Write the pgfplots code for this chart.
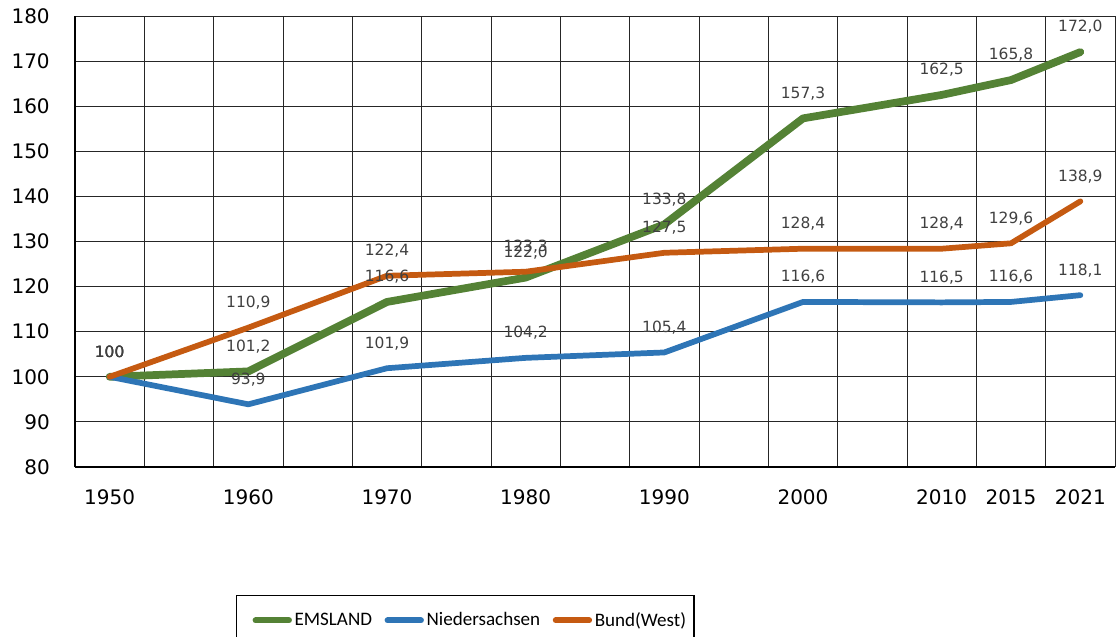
\documentclass[border=0pt]{standalone}
\usepackage{pgfplots}
\pgfplotsset{compat=1.18}
\usepackage{pgfplotstable}
\usepackage{fontspec}
\setmainfont{DejaVu Sans}
\newfontfamily\legfont{Carlito}
\definecolor{cgreen}{HTML}{548235}
\definecolor{cblue}{HTML}{2E75B6}
\definecolor{corange}{HTML}{C55A11}
\definecolor{lbl}{HTML}{404040}

\pgfplotstableread{
x y lab
0 100 100
1 101.2 101,2
2 116.6 116,6
3 122.0 122,0
4 133.8 133,8
5 157.3 157,3
6 162.5 162,5
6.5 165.8 165,8
7 172.0 172,0
}\emsland
\pgfplotstableread{
x y lab
0 100 100
1 93.9 93,9
2 101.9 101,9
3 104.2 104,2
4 105.4 105,4
5 116.6 116,6
6 116.5 116,5
6.5 116.6 116,6
7 118.1 118,1
}\nieder
\pgfplotstableread{
x y lab
0 100 100
1 110.9 110,9
2 122.4 122,4
3 123.3 123,3
4 127.5 127,5
5 128.4 128,4
6 128.4 128,4
6.5 129.6 129,6
7 138.9 138,9
}\bund

\begin{document}
\begin{tikzpicture}
\begin{axis}[
  scale only axis, width=780pt, height=338.25pt,
  xmin=-0.25, xmax=7.25, ymin=80, ymax=180,
  xtick={0,1,2,3,4,5,6,6.5,7},
  xticklabels={1950,1960,1970,1980,1990,2000,2010,2015,2021},
  minor xtick={-0.25,0.25,...,7.25},
  ytick={80,90,...,180},
  xmajorgrids=false, xminorgrids=true, ymajorgrids=true,
  major tick length=0pt, minor tick length=0pt,
  major grid style={black!85, line width=0.75pt},
  minor grid style={black!85, line width=0.75pt},
  axis x line*=bottom, axis y line*=left,
  x axis line style={-, line width=1.8pt, black},
  y axis line style={-, line width=1.4pt, black},
  tick label style={font=\fontsize{15}{18}\selectfont, color=black},
  xticklabel style={anchor=north, inner sep=0pt, yshift=-17pt},
  yticklabel style={anchor=east, inner sep=0pt, xshift=-18.75pt},
  /pgf/number format/assume math mode=true,
  clip=false,
  nodes near coords,
  point meta=explicit symbolic,
  every node near coord/.append style={font=\fontsize{11.6}{13}\selectfont, color=lbl, anchor=center, yshift=18.75pt, inner sep=0pt},
  legend style={at={(0.1545,-0.2838)}, anchor=north west, draw=black, line width=1.1pt,
    font=\legfont\fontsize{14.3}{17}\selectfont,
    /tikz/every even column/.append style={column sep=0pt},
    inner xsep=4pt, inner ysep=10.5pt},
  legend columns=3,
  legend image code/.code={\path (-7.5pt,0pt); \draw[#1, line width=4.5pt, line cap=round] (0pt,0pt) -- (25pt,0pt);},
]
\addplot[cgreen, line width=5.8pt, line join=round, line cap=round] table[x=x, y=y, meta=lab] {\emsland};
\addlegendentry{EMSLAND}
\addplot[cblue, line width=4.3pt, line join=round, line cap=round] table[x=x, y=y, meta=lab] {\nieder};
\addlegendentry{Niedersachsen}
\addplot[corange, line width=4.3pt, line join=round, line cap=round] table[x=x, y=y, meta=lab] {\bund};
\addlegendentry{Bund(West)}
\end{axis}
\pgfresetboundingbox
\path (-56.25pt,-126.75pt) rectangle (780.75pt,350.25pt);
\end{tikzpicture}
\end{document}
